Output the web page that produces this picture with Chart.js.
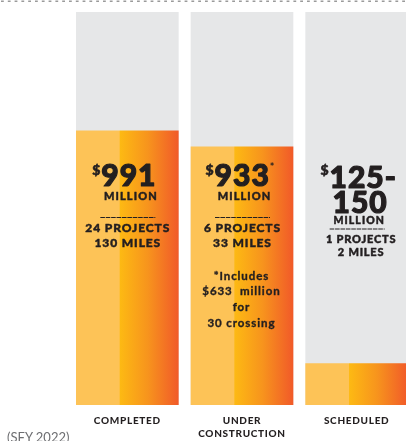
<!DOCTYPE html>
<html>
<head>
<meta charset="utf-8">
<script src="https://cdn.jsdelivr.net/npm/chart.js@4.4.1/dist/chart.umd.min.js"></script>
<style>
  html, body { margin: 0; padding: 0; background: #ffffff; overflow: hidden; width: 406px; height: 441px; }
  #wrap { position: relative; width: 420px; height: 441px; }
  canvas { display: block; }
  #note { position: absolute; left: 7px; top: 429px; font: 400 13px Lato, "Open Sans", sans-serif; color: #6d6e71; white-space: nowrap; }
</style>
</head>
<body>
<div id="wrap">
  <canvas id="c" width="420" height="441"></canvas>
  <div id="note">(SFY 2022)</div>
</div>
<script>
// ---- data ----
const categories = [['COMPLETED'], ['UNDER', 'CONSTRUCTION'], ['SCHEDULED']];
const fundingMillions = [991, 933, 150];
const scaleMax = [1420, 1420, 1420];
const amountTop = ['991', '933', '125-'];
const amountBottom = ['', '', '150'];
const amountStar = [false, true, false];
const projectCounts = [24, 6, 1];
const milesCounts = [130, 33, 2];
const footnoteLines = [[], ['*Includes', '$633  million', 'for', '30 crossing'], []];

const INK = '#231F20';
const FONT = 'Lato, "Open Sans", sans-serif';

function orangeGradient(ctx) {
  const chart = ctx.chart;
  const xs = chart.scales && chart.scales.x;
  if (!xs || ctx.dataIndex === undefined) return '#FDC357';
  const c = xs.getPixelForValue(ctx.dataIndex);
  if (!isFinite(c)) return '#FDC357';
  const l = c - 51, r = c + 51;
  const g = chart.ctx.createLinearGradient(l, 0, r, 0);
  g.addColorStop(0, '#FDC357');
  g.addColorStop(0.42, '#FDC357');
  g.addColorStop(0.43, '#FDB913');
  g.addColorStop(0.7, '#F7941D');
  g.addColorStop(1, '#F15A29');
  return g;
}

function txt(ctx, s, x, y, font, spacing, stroke) {
  ctx.font = font;
  ctx.letterSpacing = (spacing || 0) + 'px';
  const w = ctx.measureText(s).width;
  ctx.textAlign = 'left';
  const x0 = x - w / 2 + (spacing || 0) / 2;
  ctx.fillText(s, x0, y);
  if (stroke) { ctx.lineWidth = stroke; ctx.strokeText(s, x0, y); }
}

const labelPlugin = {
  id: 'labels',
  beforeDraw(chart) {
    const ctx = chart.ctx;
    ctx.save();
    ctx.strokeStyle = '#9a9a9a';
    ctx.lineWidth = 1.5;
    ctx.setLineDash([2.8, 4]);
    ctx.beginPath();
    ctx.moveTo(1, 1.2);
    ctx.lineTo(420, 1.2);
    ctx.stroke();
    ctx.restore();
    ctx.letterSpacing = '0.7px';
  },
  afterDraw(chart) {
    const ctx = chart.ctx;
    const xs = chart.scales.x;
    ctx.save();
    ctx.fillStyle = INK;
    ctx.strokeStyle = INK;
    ctx.lineJoin = 'round';
    ctx.textBaseline = 'alphabetic';
    for (let i = 0; i < fundingMillions.length; i++) {
      const cx = xs.getPixelForValue(i);
      const big = '900 30px ' + FONT;
      ctx.font = big; ctx.letterSpacing = '1px';
      const nw = ctx.measureText(amountTop[i]).width;
      ctx.font = '900 14px ' + FONT; ctx.letterSpacing = '0px';
      const dw = ctx.measureText('$').width;
      ctx.font = '700 11px ' + FONT;
      const sw = amountStar[i] ? ctx.measureText('*').width : 0;
      const total = dw + 1 + nw + sw;
      const shift = i === 0 ? -3 : (i === 1 ? -2 : 2);
      let x0 = cx - total / 2 + shift;
      ctx.textAlign = 'left';
      ctx.font = '900 14px ' + FONT;
      ctx.fillText('$', x0, 175);
      ctx.lineWidth = 0.6; ctx.strokeText('$', x0, 175);
      ctx.font = big; ctx.letterSpacing = '1px';
      const ny = i === 2 ? 188 : 185.5;
      ctx.fillText(amountTop[i], x0 + dw + 1, ny);
      ctx.lineWidth = 1.2; ctx.strokeText(amountTop[i], x0 + dw + 1, ny);
      ctx.letterSpacing = '0px';
      if (amountStar[i]) {
        ctx.font = '700 11px ' + FONT;
        ctx.fillText('*', x0 + dw + 1 + nw, 171);
      }
      let yMill = 200, yLine = 217.5, yProj = 232, yMiles = 247;
      let smallF = '900 12px ' + FONT, millF = '900 11px ' + FONT, sp = 0.9;
      if (amountBottom[i]) {
        txt(ctx, amountBottom[i], cx + 3, 212.5, big, 1, 1.2);
        yMill = 223.5; yLine = 229; yProj = 243; yMiles = 255.5;
        smallF = '900 11px ' + FONT; millF = '900 10.5px ' + FONT; sp = 0.8;
      }
      txt(ctx, 'MILLION', cx + (i === 0 ? 3 : 2), yMill, millF, 1.1, 0.45);
      ctx.save();
      ctx.lineWidth = 1;
      ctx.setLineDash([4.6, 0.8]);
      ctx.beginPath();
      ctx.moveTo(cx - 27, yLine);
      ctx.lineTo(cx + 28, yLine);
      ctx.stroke();
      ctx.restore();
      txt(ctx, projectCounts[i] + ' PROJECTS', cx + (i === 2 ? 4 : 0), yProj, smallF, sp, 0.45);
      txt(ctx, milesCounts[i] + ' MILES', cx + (i === 2 ? 4 : 0), yMiles, smallF, sp, 0.45);
      const fl = footnoteLines[i];
      for (let k = 0; k < fl.length; k++) {
        txt(ctx, fl[k], cx - 1, 279.5 + k * 15.7, '700 11.5px ' + FONT, 0.9, 0.35);
      }
    }
    ctx.restore();
    ctx.letterSpacing = '0px';
  }
};

new Chart(document.getElementById('c'), {
  type: 'bar',
  data: {
    labels: categories,
    datasets: [
      {
        label: 'Funding',
        data: fundingMillions,
        backgroundColor: orangeGradient,
        barThickness: 102,
        borderWidth: 0,
        order: 0
      },
      {
        label: 'Scale',
        data: scaleMax,
        backgroundColor: '#E6E7E8',
        barThickness: 102,
        borderWidth: 0,
        order: 1
      }
    ]
  },
  options: {
    responsive: false,
    animation: false,
    events: [],
    layout: { padding: { left: 70, right: 6, top: 12, bottom: 0 } },
    plugins: { legend: { display: false }, tooltip: { enabled: false } },
    datasets: { bar: { grouped: false } },
    scales: {
      x: {
        grid: { display: false, drawTicks: false },
        border: { display: false },
        ticks: {
          color: INK,
          font: { family: FONT, size: 10, weight: '900', lineHeight: 1.25 },
          padding: 10,
          maxRotation: 0,
          autoSkip: false
        },
        afterFit(s) { s.height = 36; }
      },
      y: {
        display: false,
        min: 0,
        max: 1420
      }
    }
  },
  plugins: [labelPlugin]
});
</script>
</body>
</html>
